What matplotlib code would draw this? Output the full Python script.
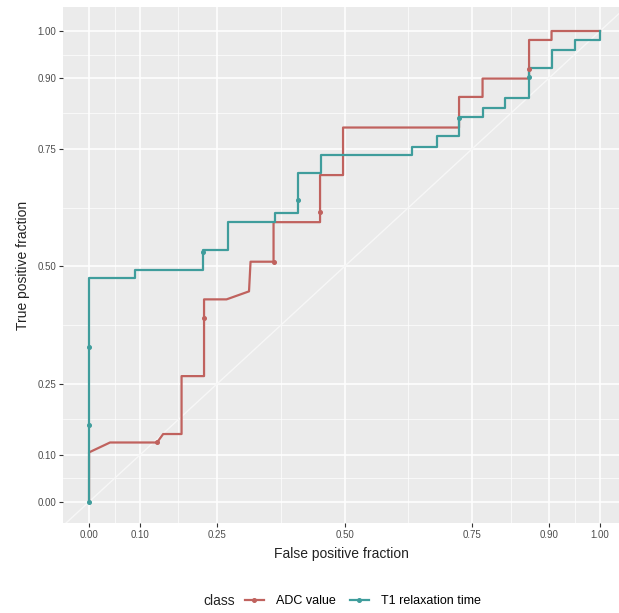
import numpy as np
import matplotlib
matplotlib.use("Agg")
import matplotlib.pyplot as plt
from matplotlib.lines import Line2D

plt.rcParams["font.family"] = ["Liberation Sans", "DejaVu Sans"]

# ---- data (step ROC curves) ----
breaks = [0.0, 0.10, 0.25, 0.50, 0.75, 0.90, 1.00]
break_labels = ["0.00", "0.10", "0.25", "0.50", "0.75", "0.90", "1.00"]

adc_fpf = [0.0, 0.0, 0.041, 0.133, 0.145, 0.181, 0.181, 0.225, 0.225, 0.269, 0.313, 0.316,
           0.361, 0.361, 0.452, 0.452, 0.497, 0.497, 0.724, 0.724, 0.770, 0.770, 0.861,
           0.861, 0.905, 0.905, 1.0]
adc_tpf = [0.0, 0.105, 0.126, 0.126, 0.144, 0.144, 0.267, 0.267, 0.430, 0.430, 0.447, 0.510,
           0.510, 0.594, 0.594, 0.694, 0.694, 0.795, 0.795, 0.860, 0.860, 0.899, 0.899,
           0.981, 0.981, 1.0, 1.0]
adc_pts_fpf = [0.133, 0.225, 0.361, 0.452, 0.861]
adc_pts_tpf = [0.126, 0.391, 0.510, 0.616, 0.920]

t1_fpf = [0.0, 0.0, 0.090, 0.090, 0.223, 0.223, 0.272, 0.272, 0.364, 0.364, 0.409, 0.409,
          0.454, 0.454, 0.631, 0.631, 0.680, 0.680, 0.724, 0.724, 0.770, 0.770, 0.814,
          0.814, 0.861, 0.861, 0.906, 0.906, 0.951, 0.951, 1.0, 1.0]
t1_tpf = [0.0, 0.475, 0.475, 0.493, 0.493, 0.535, 0.535, 0.594, 0.594, 0.614, 0.614, 0.699,
          0.699, 0.737, 0.737, 0.754, 0.754, 0.776, 0.776, 0.818, 0.818, 0.836, 0.836,
          0.857, 0.857, 0.921, 0.921, 0.960, 0.960, 0.981, 0.981, 1.0]
t1_pts_fpf = [0.0, 0.0, 0.0, 0.223, 0.409, 0.724, 0.861]
t1_pts_tpf = [0.0, 0.163, 0.329, 0.531, 0.640, 0.815, 0.902]

RED = "#c0625e"
TEAL = "#3f9d9c"

fig = plt.figure(figsize=(6.19, 6.13), dpi=100)
ax = fig.add_axes([63/619, 1-523/613, 556/619, 516/613])
ax.set_facecolor("#EBEBEB")
for s in ax.spines.values():
    s.set_visible(False)

minor = [(a+b)/2 for a, b in zip(breaks[:-1], breaks[1:])]
for v in minor:
    ax.axvline(v, color="white", lw=0.5, zorder=0)
    ax.axhline(v, color="white", lw=0.5, zorder=0)
for v in breaks:
    ax.axvline(v, color="white", lw=1.1, zorder=0)
    ax.axhline(v, color="white", lw=1.1, zorder=0)

ax.plot([-0.1, 1.1], [-0.1, 1.1], color="#f7f7f7", lw=1.0, zorder=1)

ax.plot(adc_fpf, adc_tpf, color=RED, lw=1.6, zorder=3)
ax.plot(adc_pts_fpf, adc_pts_tpf, "o", color=RED, ms=2.6, zorder=4)
ax.plot(t1_fpf, t1_tpf, color=TEAL, lw=1.6, zorder=3)
ax.plot(t1_pts_fpf, t1_pts_tpf, "o", color=TEAL, ms=2.6, zorder=4)

ax.set_xlim(-0.051, 1.037)
ax.set_ylim(-0.045, 1.051)
ax.set_xticks(breaks)
ax.set_xticklabels(break_labels)
ax.set_yticks(breaks)
ax.set_yticklabels(break_labels)
ax.tick_params(length=3, width=0.8, color="#333333", labelsize=7, labelcolor="#4d4d4d", pad=2)

ax.set_xlabel("False positive fraction", fontsize=10, color="#222222", labelpad=5)
ax.set_ylabel("True positive fraction", fontsize=10, color="#222222", labelpad=5)

fig.text(203/619, 1-601/613, "class", fontsize=10, va="center", ha="left", color="#222222")
handles = [Line2D([], [], color=RED, lw=1.6, marker="o", ms=2.6),
           Line2D([], [], color=TEAL, lw=1.6, marker="o", ms=2.6)]
fig.legend(handles, ["ADC value", "T1 relaxation time"], loc="center left",
           bbox_to_anchor=(245/619, 1-601/613), ncol=2, frameon=False, fontsize=9,
           handlelength=1.5, handletextpad=1.0, columnspacing=1.1, borderaxespad=0,
           borderpad=0)

fig.savefig("out.png", dpi=100)
